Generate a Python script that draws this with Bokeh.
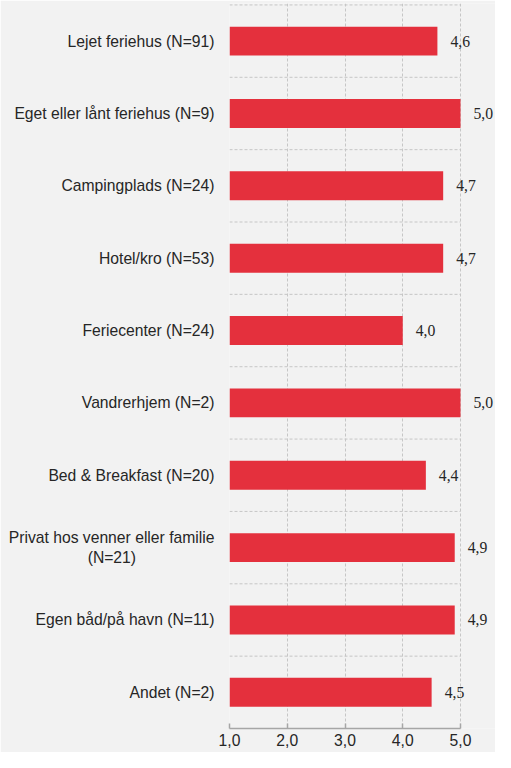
from bokeh.plotting import figure
from bokeh.models import Range1d, FixedTicker, ColumnDataSource, LabelSet
from bokeh.embed import file_html
from bokeh.resources import INLINE

NB = "\u00a0"
categories = [
    "Lejet feriehus (N=91)",
    "Eget eller lånt feriehus (N=9)",
    "Campingplads (N=24)",
    "Hotel/kro (N=53)",
    "Feriecenter (N=24)",
    "Vandrerhjem (N=2)",
    "Bed & Breakfast (N=20)",
    "Privat hos venner eller familie\n(N=21)" + NB * 18,
    "Egen båd/på havn (N=11)",
    "Andet (N=2)",
]
values = [4.6, 5.0, 4.7, 4.7, 4.0, 5.0, 4.4, 4.9, 4.9, 4.5]
x_ticks = [1, 2, 3, 4, 5]
x_tick_labels = ["1,0", "2,0", "3,0", "4,0", "5,0"]

FONT = "Liberation Sans"
FS = "15.7px"
TEXT = "#262626"
BG = "#F2F2F2"
RED = "#E4303D"
GRID = "#C6C6C6"

n = len(categories)
pos = list(range(n))
bounds = [i - 0.5 for i in range(n + 1)]
src = ColumnDataSource(dict(
    y=pos,
    v=values,
    left=[x_ticks[0]] * n,
    lab=[f"{v:.1f}".replace(".", ",") for v in values],
))
gsrc = ColumnDataSource(dict(
    y=bounds,
    x0=[x_ticks[0]] * len(bounds),
    x1=[x_ticks[-1]] * len(bounds),
))

p = figure(width=495, height=752, output_backend="svg", toolbar_location=None,
           x_range=Range1d(x_ticks[0], 5.606),
           y_range=Range1d(n - 0.5, -0.52),
           min_border_left=229, min_border_right=0, min_border_top=3, min_border_bottom=24)
p.background_fill_color = BG
p.border_fill_color = BG
p.outline_line_color = None

# horizontal dashed grid between categories (bounded to the axis extent)
p.segment(x0="x0", x1="x1", y0="y", y1="y", source=gsrc,
          line_color=GRID, line_dash="3 2", line_width=1)

p.hbar(y="y", left="left", right="v", height=0.4, source=src,
       fill_color=RED, line_color=None)

labels = LabelSet(x="v", y="y", text="lab", source=src, x_offset=13,
                  text_align="left", text_baseline="middle",
                  text_font=FONT, text_font_size=FS, text_color=TEXT)
p.add_layout(labels)

# x axis
p.xaxis.ticker = FixedTicker(ticks=x_ticks)
p.xaxis.bounds = (x_ticks[0], x_ticks[-1])
p.xaxis.major_label_overrides = {t: l for t, l in zip(x_ticks, x_tick_labels)}
p.xaxis.axis_line_color = "#A6A6A6"
p.xaxis.axis_line_width = 1.5
p.xaxis.major_tick_line_color = "#A6A6A6"
p.xaxis.major_tick_line_width = 1.5
p.xaxis.major_tick_in = 5
p.xaxis.major_tick_out = 0
p.xaxis.minor_tick_line_color = None
p.xaxis.major_label_standoff = 5
p.xaxis.major_label_text_font = FONT
p.xaxis.major_label_text_font_size = FS
p.xaxis.major_label_text_color = TEXT

# y axis
p.yaxis.ticker = FixedTicker(ticks=pos)
p.yaxis.major_label_overrides = {i: c for i, c in zip(pos, categories)}
p.yaxis.axis_line_color = None
p.yaxis.major_tick_line_color = None
p.yaxis.minor_tick_line_color = None
p.yaxis.major_tick_out = 0
p.yaxis.major_tick_in = 0
p.yaxis.major_label_standoff = 15
p.yaxis.major_label_text_font = FONT
p.yaxis.major_label_text_font_size = FS
p.yaxis.major_label_text_color = TEXT

# vertical grid
p.xgrid.ticker = FixedTicker(ticks=x_ticks)
p.xgrid.grid_line_color = GRID
p.xgrid.grid_line_dash = "3 2"
p.xgrid.grid_line_width = 1
p.ygrid.grid_line_color = None

open("out.html", "w").write(file_html(p, INLINE))
